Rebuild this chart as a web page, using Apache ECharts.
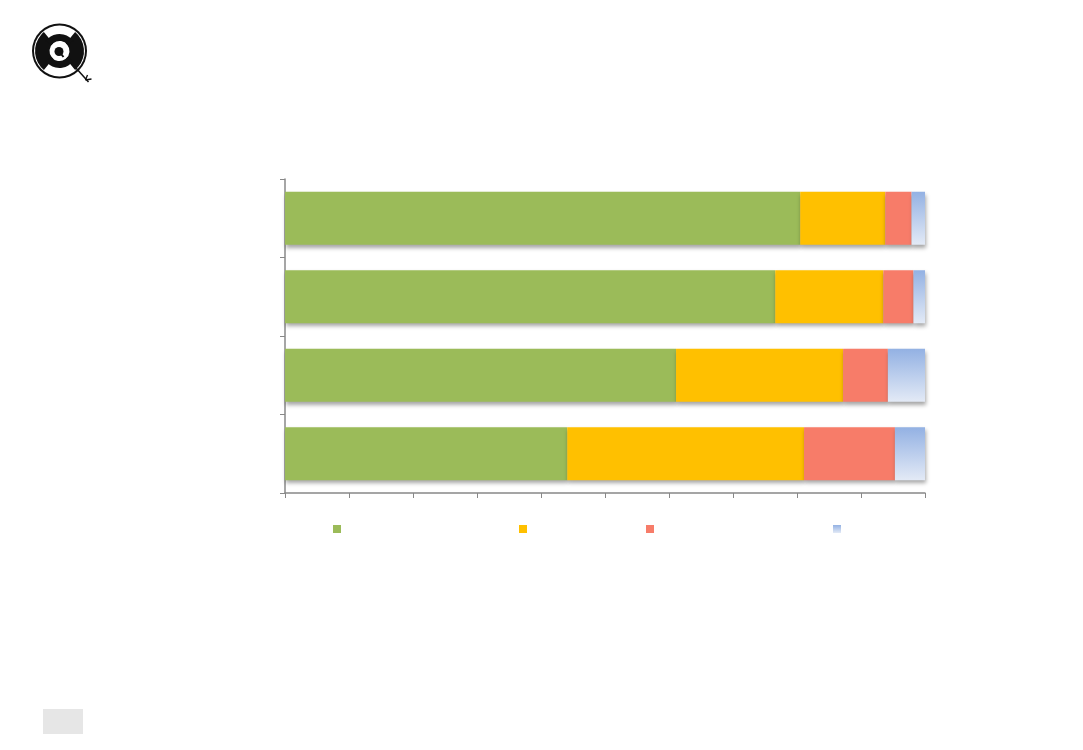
<!DOCTYPE html>
<html>
<head>
<meta charset="utf-8">
<script src="https://cdn.jsdelivr.net/npm/echarts@6/dist/echarts.min.js"></script>
<style>html,body{margin:0;padding:0;background:#fff}#c{width:1083px;height:750px}</style>
</head>
<body>
<div id="c"></div>
<script>
// Categories (no visible labels in the reference), top to bottom
const categories = ['1', '2', '3', '4'];
// Series names (legend labels not visible in the reference)
const seriesNames = ['S1', 'S2', 'S3', 'S4'];
// Percent shares, per category (top to bottom)
const greenValues  = [80.5, 76.6, 61.1, 44.1];
const yellowValues = [13.3, 16.9, 26.1, 37.0];
const redValues    = [4.1, 4.7, 7.0, 14.2];
const blueValues   = [2.1, 1.8, 5.8, 4.7];
// X axis range
const xMin = 0, xMax = 100, xStep = 10;

const colors = [
  '#9bbb59',
  '#ffc000',
  '#f77c69',
  new echarts.graphic.LinearGradient(0, 0, 0, 1, [
    {offset: 0, color: '#93b1e3'},
    {offset: 1, color: '#e3eaf6'}
  ])
];
const allValues = [greenValues, yellowValues, redValues, blueValues];
const legendLeft = [328, 514, 641, 828];

const chart = echarts.init(document.getElementById('c'), null, {renderer: 'canvas'});
const series = seriesNames.map((n, i) => ({
  name: n,
  type: 'bar',
  stack: 'total',
  barWidth: 53,
  data: allValues[i],
  itemStyle: {
    color: colors[i],
    shadowColor: 'rgba(0,0,0,0.35)',
    shadowBlur: 4,
    shadowOffsetY: 3,
    shadowOffsetX: 1
  },
  emphasis: {disabled: true},
  animation: false
}));

const legends = seriesNames.map((n, i) => ({
  data: [n],
  left: legendLeft[i],
  top: 520,
  itemWidth: 8,
  itemHeight: 8,
  icon: 'rect',
  formatter: () => '',
  selectedMode: false,
  itemStyle: {borderWidth: 0}
}));

const cx = 59.5, cy = 51;
chart.setOption({
  animation: false,
  grid: {left: 285, right: 158, top: 179, bottom: 257, containLabel: false},
  legend: legends,
  xAxis: {
    type: 'value',
    min: xMin, max: xMax, interval: xStep,
    axisLine: {show: true, lineStyle: {color: '#888', width: 1.5}},
    axisTick: {show: true, length: 5, lineStyle: {color: '#888', width: 1}},
    axisLabel: {show: false},
    splitLine: {show: false}
  },
  yAxis: {
    type: 'category',
    data: categories,
    inverse: true,
    axisLine: {show: true, lineStyle: {color: '#888', width: 1.5}},
    axisTick: {show: true, length: 5, lineStyle: {color: '#888', width: 1}},
    axisLabel: {show: false},
    splitLine: {show: false}
  },
  series: series,
  graphic: [
    {type: 'circle', shape: {cx: cx, cy: cy, r: 27.5}, style: {fill: '#111'}},
    {type: 'circle', shape: {cx: cx, cy: cy, r: 25.5}, style: {fill: '#fff'}},
    {type: 'sector', shape: {cx: cx, cy: cy, r0: 10, r: 24.5, startAngle: Math.PI * 0.72, endAngle: Math.PI * 1.28}, style: {fill: '#111'}},
    {type: 'sector', shape: {cx: cx, cy: cy, r0: 10, r: 24.5, startAngle: -Math.PI * 0.28, endAngle: Math.PI * 0.28}, style: {fill: '#111'}},
    {type: 'sector', shape: {cx: cx, cy: cy, r0: 10, r: 17, startAngle: Math.PI * 1.2, endAngle: Math.PI * 1.8}, style: {fill: '#111'}},
    {type: 'sector', shape: {cx: cx, cy: cy, r0: 10, r: 17, startAngle: Math.PI * 0.2, endAngle: Math.PI * 0.8}, style: {fill: '#111'}},
    {type: 'circle', shape: {cx: cx - 0.5, cy: cy + 0.5, r: 4.5}, style: {fill: '#111'}},
    {type: 'line', shape: {x1: cx, y1: cy + 1, x2: cx + 4, y2: cy + 6}, style: {stroke: '#111', lineWidth: 2}},
    {type: 'line', shape: {x1: cx + 12, y1: cy + 12, x2: cx + 29, y2: cy + 31}, style: {stroke: '#111', lineWidth: 1.5}},
    {type: 'line', shape: {x1: cx + 28, y1: cy + 24, x2: cx + 26, y2: cy + 29}, style: {stroke: '#111', lineWidth: 1.3}},
    {type: 'line', shape: {x1: cx + 26, y1: cy + 29, x2: cx + 32, y2: cy + 28}, style: {stroke: '#111', lineWidth: 1.3}},
    {type: 'rect', shape: {x: 43, y: 709, width: 40, height: 25}, style: {fill: '#e6e6e6'}}
  ]
});
</script>
</body>
</html>
